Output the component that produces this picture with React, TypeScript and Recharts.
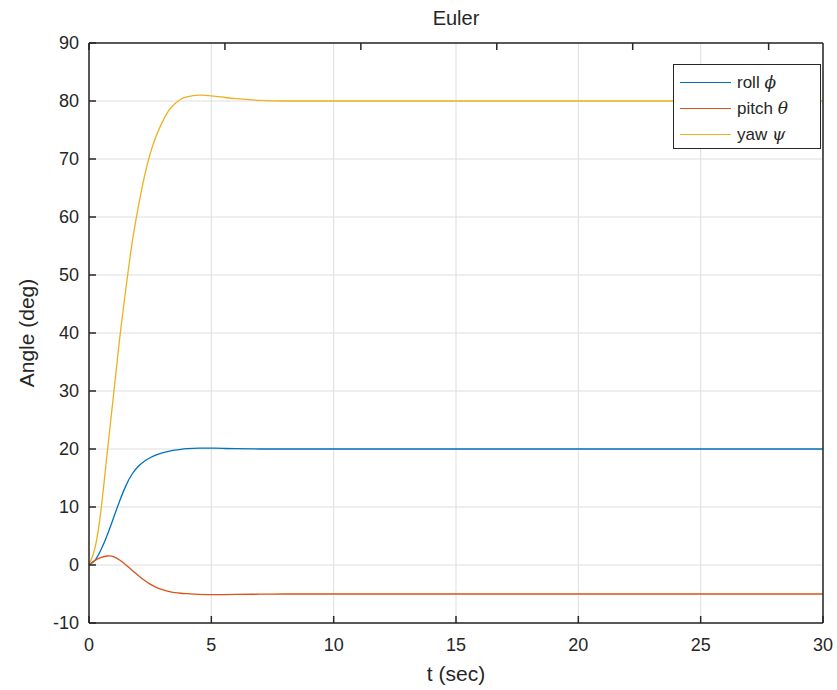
import React from "react";
import { LineChart, Line, XAxis, YAxis, CartesianGrid } from "recharts";

document.body.style.margin = "0";

const time = [0, 0.25, 0.5, 0.75, 1, 1.25, 1.5, 1.75, 2, 2.25, 2.5, 2.75, 3, 3.25, 3.5, 3.75, 4, 4.5, 5, 5.5, 6, 7, 8, 10, 15, 20, 25, 30];
const roll = [0, 0.85, 2.7, 5.2, 8.1, 11.0, 13.6, 15.6, 16.95, 17.85, 18.5, 19.0, 19.35, 19.6, 19.8, 19.95, 20.05, 20.15, 20.15, 20.1, 20.05, 20.0, 20.0, 20.0, 20.0, 20.0, 20.0, 20.0];
const pitch = [0, 0.8, 1.3, 1.55, 1.45, 0.85, 0.05, -0.85, -1.75, -2.6, -3.3, -3.85, -4.25, -4.55, -4.75, -4.87, -4.95, -5.08, -5.12, -5.1, -5.07, -5.03, -5.0, -5.0, -5.0, -5.0, -5.0, -5.0];
const yaw = [0, 3.0, 9.8, 19.6, 29.2, 38.9, 47.4, 55.2, 61.4, 66.7, 70.9, 74.0, 76.4, 78.3, 79.5, 80.3, 80.7, 81.0, 80.9, 80.65, 80.4, 80.1, 80.0, 80.0, 80.0, 80.0, 80.0, 80.0];

const xTicks = [0, 5, 10, 15, 20, 25, 30];
const yTicks = [-10, 0, 10, 20, 30, 40, 50, 60, 70, 80, 90];

const seriesNames = [
  { key: "roll", name: "roll", greek: "\u03d5", color: "#0072BD" },
  { key: "pitch", name: "pitch", greek: "\u03b8", color: "#D95319" },
  { key: "yaw", name: "yaw", greek: "\u03c8", color: "#EDB120" },
];

const data = time.map((t, i) => ({ t, roll: roll[i], pitch: pitch[i], yaw: yaw[i] }));

const font = "'Liberation Sans', Arial, Helvetica, sans-serif";
const ink = "#262626";

function LegendBox() {
  return (
    <div
      style={{
        position: "absolute",
        left: 673,
        top: 64,
        width: 148,
        height: 85,
        border: `1px solid ${ink}`,
        background: "#fff",
        fontFamily: font,
        fontSize: 17,
        color: ink,
        boxSizing: "border-box",
        paddingTop: 4,
      }}
    >
      {seriesNames.map((s) => (
        <div key={s.key} style={{ display: "flex", alignItems: "center", height: 26 }}>
          <div style={{ width: 51, height: 0, borderTop: `1px solid ${s.color}`, marginLeft: 6, marginRight: 6 }} />
          <span>
            {s.name} <i style={{ fontFamily: "'DejaVu Serif', serif" }}>{s.greek}</i>
          </span>
        </div>
      ))}
    </div>
  );
}

export default function App() {
  return (
    <div style={{ position: "relative", width: 837, height: 690, background: "#fff", fontFamily: font }}>
      <LineChart width={837} height={690} data={data} margin={{ top: 42, right: 13, bottom: 37, left: 39 }}>
        <CartesianGrid stroke="#dedede" strokeWidth={1} horizontalValues={yTicks} verticalValues={xTicks} />
        <XAxis
          dataKey="t"
          type="number"
          domain={[0, 30]}
          ticks={xTicks}
          interval={0}
          height={30}
          tickSize={-7}
          tickMargin={22}
          axisLine={{ stroke: ink, strokeWidth: 1.5 }}
          tickLine={{ stroke: ink, strokeWidth: 1.5 }}
          tick={{ fill: ink, fontSize: 18, fontFamily: font }}
        />
        <XAxis
          xAxisId="top"
          orientation="top"
          type="number"
          domain={[0, 30]}
          ticks={xTicks}
          interval={0}
          height={1}
          tickSize={-7}
          tickMargin={0}
          tickFormatter={() => ""}
          axisLine={{ stroke: ink, strokeWidth: 1.5 }}
          tickLine={{ stroke: ink, strokeWidth: 1.5 }}
        />
        <YAxis
          type="number"
          domain={[-10, 90]}
          ticks={yTicks}
          interval={0}
          width={50}
          tickSize={-7}
          tickMargin={17}
          axisLine={{ stroke: ink, strokeWidth: 1.5 }}
          tickLine={{ stroke: ink, strokeWidth: 1.5 }}
          tick={{ fill: ink, fontSize: 18, fontFamily: font }}
        />
        <YAxis
          yAxisId="right"
          orientation="right"
          type="number"
          domain={[-10, 90]}
          ticks={yTicks}
          interval={0}
          width={1}
          tickSize={-7}
          tickMargin={0}
          tickFormatter={() => ""}
          axisLine={{ stroke: ink, strokeWidth: 1.5 }}
          tickLine={{ stroke: ink, strokeWidth: 1.5 }}
        />
        {seriesNames.map((s) => (
          <Line
            key={s.key}
            type="natural"
            dataKey={s.key}
            stroke={s.color}
            strokeWidth={1.3}
            dot={false}
            isAnimationActive={false}
          />
        ))}
      </LineChart>
      <div style={{ position: "absolute", left: 89, width: 734, top: 7, textAlign: "center", fontSize: 20, color: ink }}>
        Euler
      </div>
      <div style={{ position: "absolute", left: 89, width: 734, top: 662, textAlign: "center", fontSize: 21, color: ink }}>
        t (sec)
      </div>
      <div
        style={{
          position: "absolute",
          left: 27,
          top: 333,
          transform: "translate(-50%, -50%) rotate(-90deg)",
          whiteSpace: "nowrap",
          fontSize: 21,
          color: ink,
        }}
      >
        Angle (deg)
      </div>
      <LegendBox />
    </div>
  );
}
